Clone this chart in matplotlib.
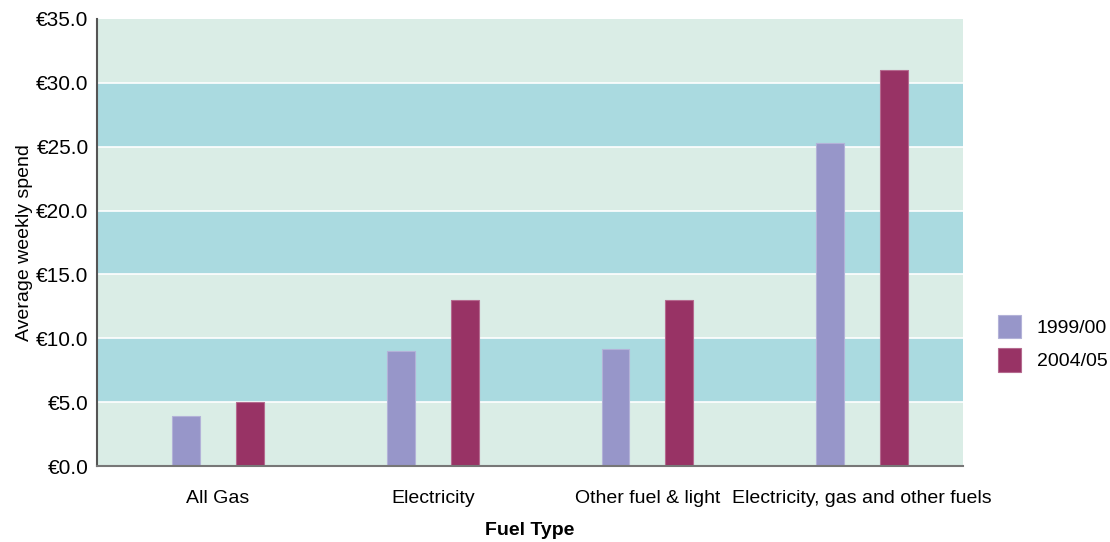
import matplotlib
matplotlib.use('Agg')
import matplotlib.pyplot as plt
import numpy as np

plt.rcParams['font.family'] = ['Liberation Sans', 'DejaVu Sans']

categories = ['All Gas', 'Electricity', 'Other fuel & light', 'Electricity, gas and other fuels']
spend_1999 = [3.9, 9.0, 9.2, 25.3]
spend_2004 = [5.0, 13.0, 13.0, 31.0]
series_names = ['1999/00', '2004/05']
yticks = [0, 5, 10, 15, 20, 25, 30, 35]

light = '#daede6'
teal = '#aadae0'
c1 = '#9796c9'
c2 = '#983365'

fig = plt.figure(figsize=(11.1, 5.42), dpi=100)
ax = fig.add_axes([0.0874, 0.140, 0.7802, 0.825])

# alternating bands
for i in range(len(yticks) - 1):
    ax.axhspan(yticks[i], yticks[i + 1], color=light if i % 2 == 0 else teal, lw=0, zorder=0)
for y in yticks[1:-1]:
    ax.axhline(y, color='white', lw=1.2, zorder=1)

x = np.arange(len(categories))
w = 0.13
off = 0.149
ax.bar(x - off, spend_1999, w, color=c1, edgecolor='#b3b2d8', lw=0.8, zorder=2, label=series_names[0])
ax.bar(x + off, spend_2004, w, color=c2, edgecolor='#b56a8f', lw=0.8, zorder=2, label=series_names[1])

ax.set_xlim(-0.564, 3.47)
ax.set_ylim(0, 35)
ax.set_yticks(yticks)
ax.set_yticklabels(['€%.1f' % v for v in yticks], fontsize=15)
ax.set_xticks(x)
ax.set_xticklabels(categories, fontsize=14)
ax.tick_params(length=0)
ax.tick_params(axis='x', pad=17)
ax.tick_params(axis='y', pad=6)

for s in ['top', 'right']:
    ax.spines[s].set_visible(False)
ax.spines['left'].set_color('#555555')
ax.spines['left'].set_linewidth(1.5)
ax.spines['bottom'].set_color('#777777')
ax.spines['bottom'].set_linewidth(1.5)

ax.set_ylabel('Average weekly spend', fontsize=14, labelpad=2)
ax.set_xlabel('Fuel Type', fontsize=14, fontweight='bold', labelpad=11)

ax.legend(loc='center left', bbox_to_anchor=(1.04, 0.275), frameon=False, fontsize=14,
          borderaxespad=0, borderpad=0,
          handlelength=1.2, handleheight=1.5, handletextpad=0.8, labelspacing=0.5)

fig.savefig('out.png', dpi=100)
